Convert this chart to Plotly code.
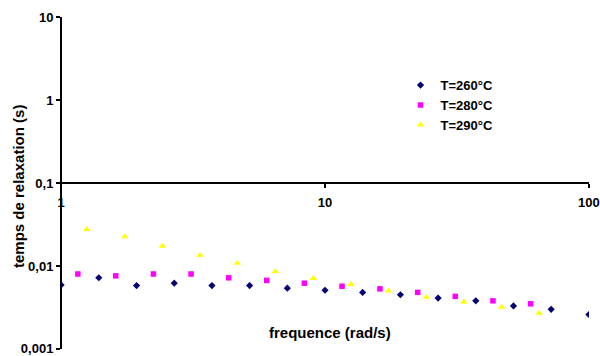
import plotly.graph_objects as go

# Relaxation time vs angular frequency at three melt temperatures
freq_260 = [1.0, 1.389, 1.931, 2.683, 3.728, 5.179, 7.197, 10.0, 13.89, 19.31,
            26.83, 37.28, 51.79, 71.97, 100.0]
tau_260 = [0.0059, 0.0072, 0.0058, 0.0062, 0.0058, 0.0058, 0.0054, 0.0051, 0.0048,
           0.0045, 0.0041, 0.0038, 0.0033, 0.0030, 0.0026]

freq_280 = [1.157, 1.611, 2.237, 3.108, 4.317, 6.015, 8.35, 11.6, 16.15, 22.45,
            31.16, 43.3, 60.15]
tau_280 = [0.0080, 0.0076, 0.0080, 0.0080, 0.0072, 0.0067, 0.0062, 0.0057, 0.0053,
           0.0048, 0.0043, 0.0038, 0.0035]

freq_290 = [1.251, 1.743, 2.419, 3.361, 4.654, 6.48, 9.03, 12.55, 17.4, 24.19,
            33.61, 46.7, 64.8]
tau_290 = [0.0277, 0.0226, 0.0174, 0.0135, 0.0108, 0.0086, 0.0071, 0.0060, 0.0050,
           0.0042, 0.0037, 0.0032, 0.0027]

series_names = ["T=260°C", "T=280°C", "T=290°C"]
y_tickvals = [0.001, 0.01, 0.1, 1, 10]
y_ticktext = ["0,001", "0,01", "0,1", "1", "10"]
x_tickvals = [1, 10, 100]
x_ticktext = ["1", "10", "100"]

FONT = "Liberation Sans"

# log10 range of the y axis
Y_LOG_RANGE = [-3.001, 1.001]
# the frequency axis crosses the y axis at tau = 0.1
x_axis_pos = (-1 - Y_LOG_RANGE[0]) / (Y_LOG_RANGE[1] - Y_LOG_RANGE[0])

fig = go.Figure()
fig.add_trace(go.Scatter(x=freq_260, y=tau_260, mode="markers", name=series_names[0],
                         marker=dict(symbol="diamond", size=5.5, color="#000070")))
fig.add_trace(go.Scatter(x=freq_280, y=tau_280, mode="markers", name=series_names[1],
                         marker=dict(symbol="square", size=5.5, color="#FF00FF")))
fig.add_trace(go.Scatter(x=freq_290, y=tau_290, mode="markers", name=series_names[2],
                         marker=dict(symbol="triangle-up", size=6.5, color="#FFFF00")))

fig.update_layout(
    width=600, height=356,
    margin=dict(l=61, r=11, t=17, b=7, autoexpand=False),
    paper_bgcolor="white", plot_bgcolor="white",
    font=dict(family=FONT, size=13, color="black", weight="bold"),
    showlegend=True,
    legend=dict(x=0.643, y=0.84, xanchor="left", yanchor="top",
                bgcolor="rgba(0,0,0,0)", font=dict(size=13, weight="bold"),
                itemwidth=30, tracegroupgap=0),
    xaxis=dict(type="log", range=[-0.0005, 2.0005], anchor="free", position=x_axis_pos,
               automargin=False, ticklabeloverflow="allow",
               showgrid=False, zeroline=False, showline=True, linecolor="black",
               linewidth=2, ticks="outside", ticklen=4, tickwidth=1.5, tickcolor="black",
               ticklabelstandoff=3,
               tickvals=x_tickvals, ticktext=x_ticktext,
               tickfont=dict(family=FONT, size=13, weight="bold")),
    yaxis=dict(type="log", range=Y_LOG_RANGE, anchor="free", position=0,
               automargin=False, ticklabeloverflow="allow",
               showgrid=False, zeroline=False,
               showline=True, linecolor="black", linewidth=2, ticks="outside",
               ticklen=4, tickwidth=1.5, tickcolor="black",
               tickvals=y_tickvals, ticktext=y_ticktext,
               tickfont=dict(family=FONT, size=13, weight="bold")),
    annotations=[
        dict(text="frequence (rad/s)", xref="paper", yref="paper", x=0.5095, y=0.051,
             xanchor="center", yanchor="middle",
             showarrow=False, font=dict(family=FONT, size=15, weight="bold")),
        dict(text="temps de relaxation (s)", xref="paper", yref="paper", x=-0.0795,
             y=0.488, xanchor="center", yanchor="middle", textangle=-90, showarrow=False,
             font=dict(family=FONT, size=15, weight="bold")),
    ],
)

fig.write_html("out.html")
